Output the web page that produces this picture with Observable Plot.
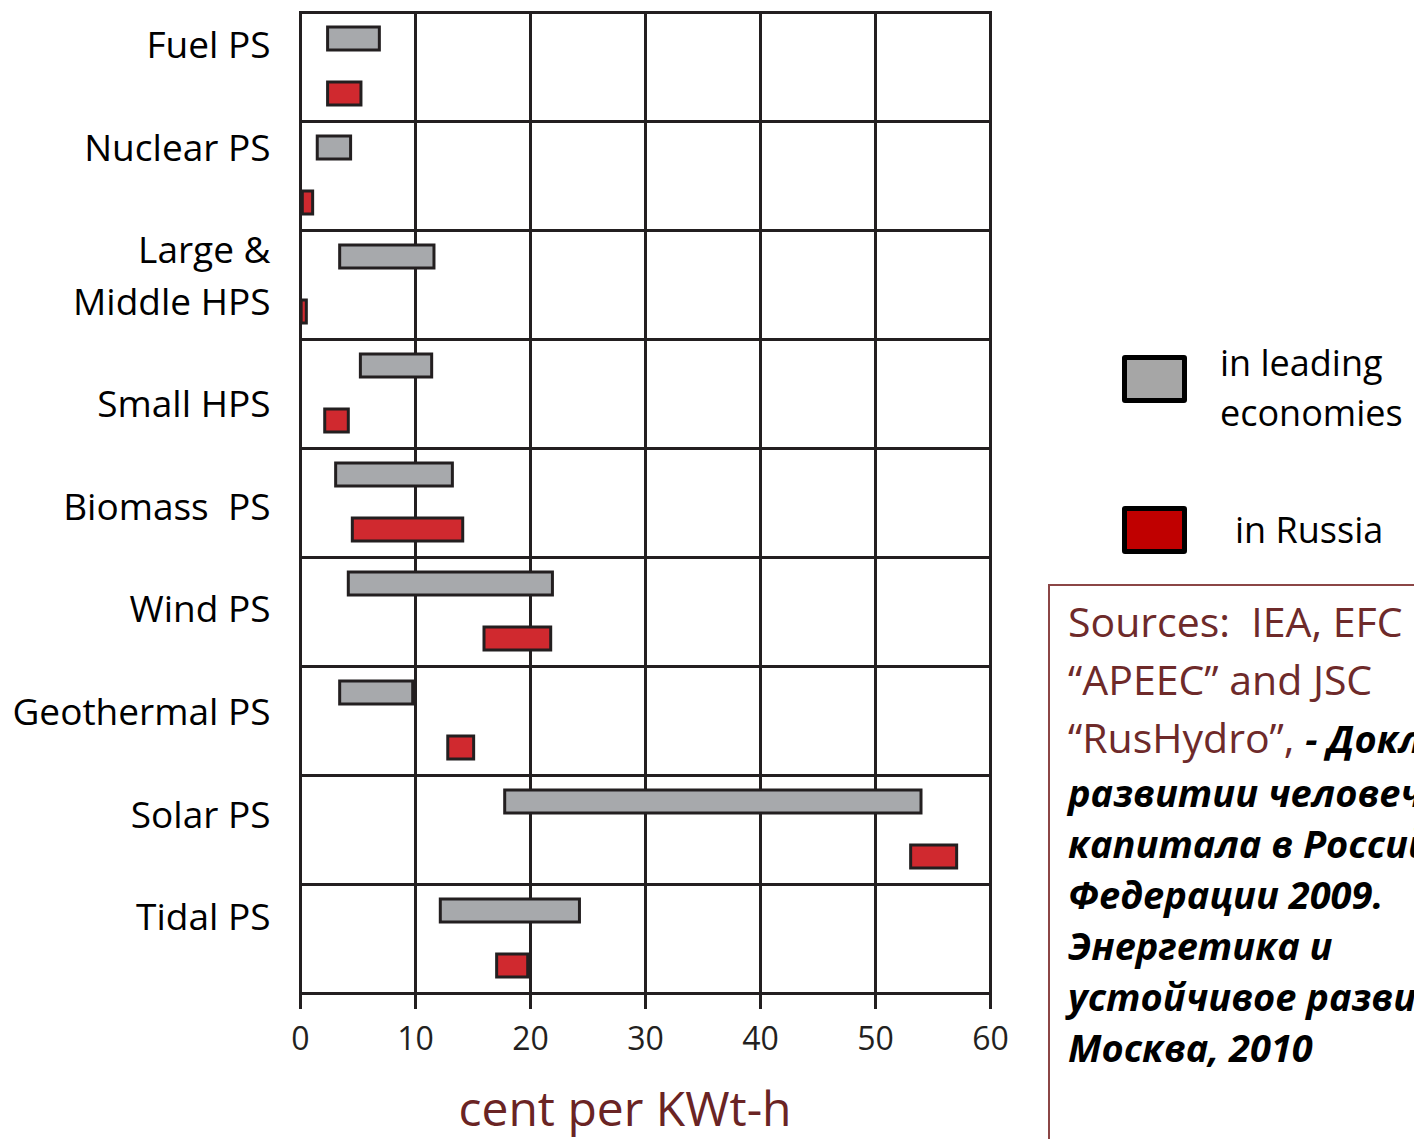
<!DOCTYPE html>
<html>
<head>
<meta charset="utf-8">
<script src="https://cdn.jsdelivr.net/npm/d3@7"></script>
<script src="https://cdn.jsdelivr.net/npm/@observablehq/plot@0.6"></script>
<style>
html, body { margin: 0; padding: 0; background: #fff; width: 1414px; height: 1139px; overflow: hidden; }
#wrap { position: relative; width: 1414px; height: 1139px; overflow: hidden; font-family: "Open Sans", sans-serif; }
#chart { position: absolute; left: 0; top: 0; }
#caption { position: absolute; left: 300px; width: 650px; top: 1080px; text-align: center; font-size: 48px; line-height: 56px; color: #6a2424; white-space: nowrap; }
.swatch { position: absolute; left: 1122px; width: 65px; height: 48px; box-sizing: border-box; border: 5px solid #000; border-radius: 3px; }
.ltext { position: absolute; font-size: 36px; line-height: 50px; color: #000; white-space: nowrap; }
#sources { position: absolute; left: 1048px; top: 584px; width: 600px; height: 700px; border-left: 2px solid #8b4646; border-top: 2px solid #8b4646; box-sizing: border-box; padding-left: 18px; padding-top: 6px; white-space: nowrap; }
#sources .s1 { font-size: 41px; line-height: 58px; color: #6e2a2a; }
#sources .s1 b { color: #000; font-size: 38px; font-style: italic; font-weight: 700; }
#sources .s2 { margin-top: 0px; font-size: 38px; line-height: 51px; color: #000; font-style: italic; font-weight: 700; }
</style>
</head>
<body>
<div id="wrap">
  <div id="chart"></div>
  <div id="caption"></div>
  <div id="legend"></div>
  <div id="sources">
    <div class="s1">Sources:&nbsp; IEA, EFC<br>“APEEC” and JSC<br>“RusHydro”, <b>- Доклад о</b></div>
    <div class="s2">развитии человеческого<br>капитала в Российской<br>Федерации 2009.<br>Энергетика и<br>устойчивое развитие.<br>Москва, 2010</div>
  </div>
</div>
<script>
// ---- data ----
const categories = ["Fuel PS", "Nuclear PS", "Large &\nMiddle HPS", "Small HPS", "Biomass  PS", "Wind PS", "Geothermal PS", "Solar PS", "Tidal PS"];
const seriesNames = ["in leading economies", "in Russia"];
const leadingLow  = [2.4, 1.5, 3.45, 5.25, 3.1, 4.2, 3.45, 17.8, 12.2];
const leadingHigh = [6.9, 4.4, 11.65, 11.45, 13.25, 21.95, 9.8, 54.0, 24.3];
const russiaLow   = [2.4, 0.2, 0.1, 2.15, 4.55, 16.0, 12.85, 53.1, 17.1];
const russiaHigh  = [5.3, 1.1, 0.55, 4.2, 14.15, 21.8, 15.1, 57.1, 19.8];
const xTicks = [0, 10, 20, 30, 40, 50, 60];
const gridValues = [10, 20, 30, 40, 50];
const barColors = ["#a7a9ac", "#d0292f"];
const legendColors = ["#a6a6a6", "#c00000"];
const legendLabels = ["in leading<br>economies", "in Russia"];
const axisTitle = "cent per KWt-h";

const rows = [];
categories.forEach((c, i) => {
  rows.push({category: c, series: seriesNames[0], low: leadingLow[i], high: leadingHigh[i]});
  rows.push({category: c, series: seriesNames[1], low: russiaLow[i], high: russiaHigh[i]});
});

// category labels set as one text block (blank line between categories), as in the original
const labelBlock = [categories.join("\n\u00a0\n")];

const ink = "#231f20";
const chart = Plot.plot({
  width: 1040,
  height: 1065,
  marginLeft: 300,
  marginRight: 50,
  marginTop: 10,
  marginBottom: 71,
  x: {domain: [0, 60]},
  y: {domain: seriesNames, paddingInner: 0.58, paddingOuter: 0.28, axis: null},
  fy: {domain: categories, padding: 0, axis: null},
  color: {domain: seriesNames, range: barColors},
  style: {fontFamily: "Open Sans, sans-serif", overflow: "visible", background: "transparent"},
  marks: [
    Plot.frame({stroke: ink, strokeWidth: 3}),
    Plot.ruleX(gridValues, {x: d => d, stroke: ink, strokeWidth: 3}),
    Plot.barX(rows, {x1: "low", x2: "high", y: "series", fy: "category", fill: "series", stroke: ink, strokeWidth: 3}),
    Plot.text(labelBlock, {fy: [categories[0]], text: d => d, frameAnchor: "top-left", textAnchor: "end", lineAnchor: "top", dx: -30, dy: 9, fontSize: 37, lineHeight: 1.387, fill: "#000"}),
    Plot.axisX({anchor: "bottom", ticks: xTicks, tickSize: 16, tickPadding: 18, fontSize: 32, label: null, stroke: ink, strokeWidth: 3, fill: "#231f20"})
  ]
});
document.getElementById("chart").appendChild(chart);
document.getElementById("caption").textContent = axisTitle;

const legend = document.getElementById("legend");
const swTops = [355, 506];
const txtPos = [{left: 1220, top: 338}, {left: 1235, top: 505}];
seriesNames.forEach((s, i) => {
  const sw = document.createElement("div");
  sw.className = "swatch";
  sw.style.top = swTops[i] + "px";
  sw.style.background = legendColors[i];
  legend.appendChild(sw);
  const t = document.createElement("div");
  t.className = "ltext";
  t.style.left = txtPos[i].left + "px";
  t.style.top = txtPos[i].top + "px";
  t.innerHTML = legendLabels[i];
  legend.appendChild(t);
});
</script>
</body>
</html>
